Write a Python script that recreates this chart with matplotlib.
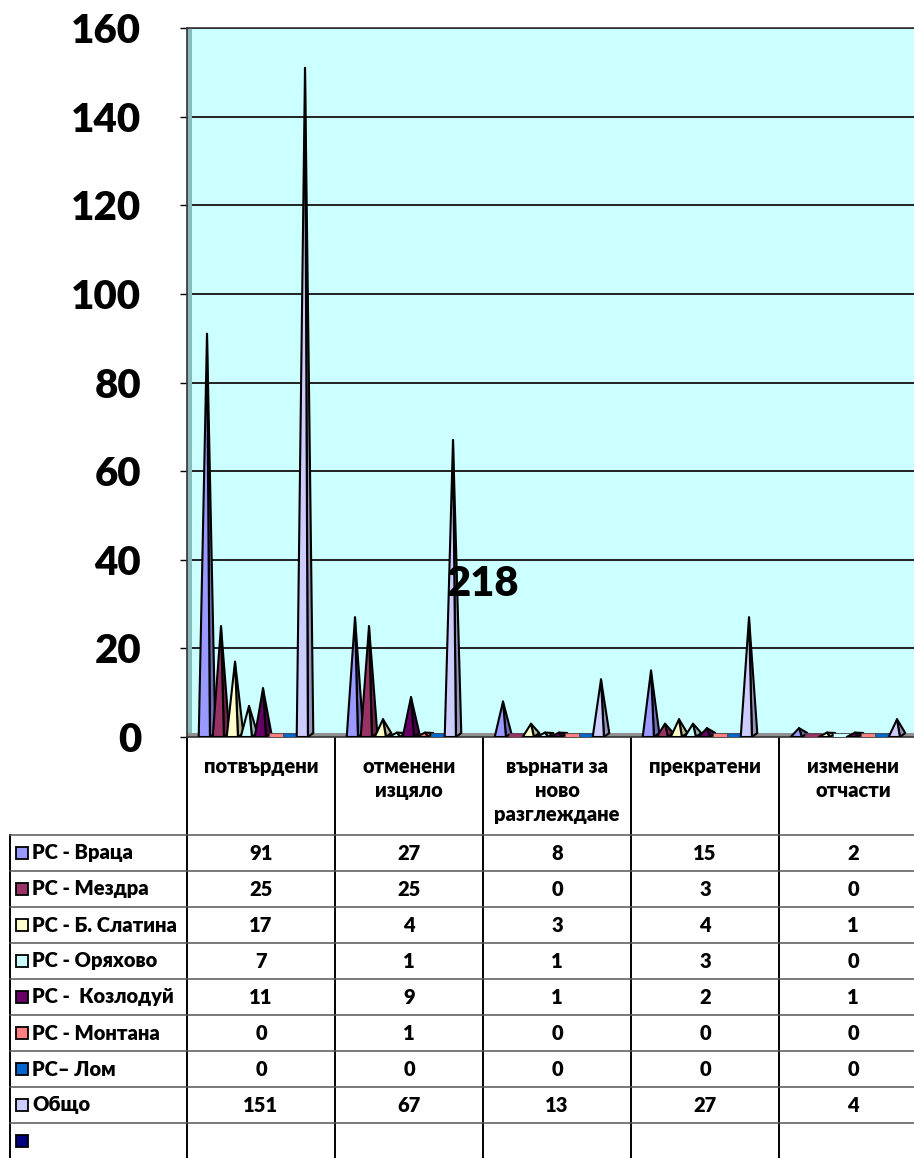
import numpy as np
import matplotlib.pyplot as plt
from matplotlib.patches import Polygon, Rectangle
from matplotlib.colors import to_rgb

plt.rcParams['font.family'] = ['Lato', 'Open Sans', 'DejaVu Sans']

# data
categories = ['потвърдени', 'отменени\nизцяло', 'върнати за\nново\nразглеждане', 'прекратени', 'изменени\nотчасти']
series_names = ['РС - Враца', 'РС - Мездра', 'РС - Б. Слатина', 'РС - Оряхово',
                'РС -  Козлодуй', 'РС - Монтана', 'РС– Лом', 'Общо', '']
vratsa = [91, 27, 8, 15, 2]
mezdra = [25, 25, 0, 3, 0]
slatina = [17, 4, 3, 4, 1]
oryahovo = [7, 1, 1, 3, 0]
kozloduy = [11, 9, 1, 2, 1]
montana = [0, 1, 0, 0, 0]
lom = [0, 0, 0, 0, 0]
total = [151, 67, 13, 27, 4]
empty = [None, None, None, None, None]
series_values = [vratsa, mezdra, slatina, oryahovo, kozloduy, montana, lom, total, empty]
colors = ['#9999FF', '#993366', '#FFFFCC', '#CCFFFF', '#660066', '#FF8080', '#0066CC', '#CCCCFF', '#000080']
yticks = [0, 20, 40, 60, 80, 100, 120, 140, 160]
note = '218'

W, H = 914, 1158
fig = plt.figure(figsize=(W / 100, H / 100), dpi=100)

# pixel layout
x_left, x_cat, y_top, y_zero = 187, 148, 28, 737
col_edges = [x_left + x_cat * i for i in range(6)]
fw = 'heavy'

# table / overlay axes in pixel coords
tab = fig.add_axes([0, 0, 1, 1])
tab.set_xlim(0, W)
tab.set_ylim(H, 0)
tab.axis('off')

# chart axes
ax = fig.add_axes([x_left / W, (H - y_zero) / H, (x_cat * 5) / W, (y_zero - y_top) / H])
ax.set_facecolor('#CCFFFF')
ax.set_xlim(0, 5)
ax.set_ylim(0, 160)
ax.set_yticks(yticks)
ax.set_yticklabels([str(t) for t in yticks], fontsize=29, fontweight=fw)
ax.tick_params(axis='y', length=5, pad=28, width=1)
ax.set_xticks([])
for t in yticks[1:]:
    ax.axhline(t, color='#222222', lw=1.4, zorder=1)
for s in ax.spines.values():
    s.set_color('#333333')
    s.set_linewidth(1.2)

# 3d wall and floor
ax.add_patch(Rectangle((0, 0), 0.035, 160, color='#88BBBB', zorder=1.5, lw=0))
ax.add_patch(Rectangle((0, 0), 5, 0.9, color='#909090', zorder=1.5, lw=0))

slot = 14 / x_cat
first = 20 / x_cat
hw = 0.056
for i, (vals, c) in enumerate(zip(series_values, colors)):
    dark = tuple(np.array(to_rgb(c)) * 0.72)
    for k, v in enumerate(vals):
        if v is None:
            continue
        x = k + first + slot * i
        if v > 0:
            front = Polygon([(x - hw, 0), (x, v), (x + 0.35 * hw, 0)], closed=True,
                            facecolor=c, edgecolor='black', lw=1.5, joinstyle='round', zorder=3)
            side = Polygon([(x + 0.35 * hw, 0), (x, v), (x + hw, 0.9)], closed=True,
                           facecolor=dark, edgecolor='black', lw=1.5, joinstyle='round', zorder=2.9)
            ax.add_patch(side)
            ax.add_patch(front)
        else:
            ax.add_patch(Rectangle((x - hw, 0), 2 * hw, 0.8, facecolor=c,
                                   edgecolor='#444444', lw=0.6, zorder=3))

ax.text(2.0, 34.5, note, fontsize=30, fontweight=fw, ha='center', va='center', zorder=5)

# table
row_h = 36
y_head_bot = 835
n_rows = len(series_names)
y_bot = y_head_bot + row_h * n_rows
for xe in col_edges[:5]:
    tab.plot([xe, xe], [y_zero, y_bot], color='black', lw=1.4)
tab.plot([10, 10], [y_head_bot, y_bot], color='black', lw=1.4)
for r in range(n_rows + 1):
    yy = y_head_bot + row_h * r
    tab.plot([10, W], [yy, yy], color='#555555', lw=1.1)

for k, cat in enumerate(categories):
    cx = col_edges[k] + x_cat / 2
    tab.text(cx, 757, cat, ha='center', va='top', fontsize=14.5, fontweight=fw, linespacing=1.3)

for r, (name, vals, c) in enumerate(zip(series_names, series_values, colors)):
    cy = y_head_bot + row_h * r + row_h / 2
    tab.add_patch(Rectangle((16, cy - 6), 12, 12, facecolor=c, edgecolor='black', lw=1.3))
    tab.text(32, cy, name, ha='left', va='center', fontsize=14.5, fontweight=fw)
    for k, v in enumerate(vals):
        if v is None:
            continue
        tab.text(col_edges[k] + x_cat / 2, cy, str(v), ha='center', va='center',
                 fontsize=14.5, fontweight=fw)

fig.savefig('out.png', dpi=100)
